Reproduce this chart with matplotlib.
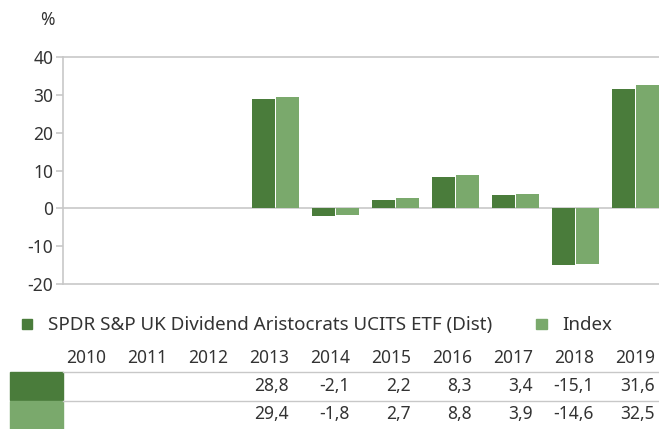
import numpy as np
import matplotlib
matplotlib.use('Agg')
import matplotlib.pyplot as plt
from matplotlib.patches import Rectangle

plt.rcParams['font.family'] = ['Noto Sans', 'DejaVu Sans']
plt.rcParams['axes.unicode_minus'] = False

#Yearly returns in %, None where the fund had no data
years = ['2010', '2011', '2012', '2013', '2014', '2015', '2016', '2017', '2018', '2019']
fund = [None, None, None, 28.8, -2.1, 2.2, 8.3, 3.4, -15.1, 31.6]
index = [None, None, None, 29.4, -1.8, 2.7, 8.8, 3.9, -14.6, 32.5]
fund_name = 'SPDR S&P UK Dividend Aristocrats UCITS ETF (Dist)'
index_name = 'Index'

dark = '#4a7c3b'
light = '#7aa96c'
grey = '#c8c8c8'
txt = '#333333'

W, H = 659, 429
fig = plt.figure(figsize=(W/100, H/100), dpi=100)

#main bar axes
ax = fig.add_axes([63/W, (H-284)/H, (W-63)/W, (284-57)/H])
x = np.arange(len(years))
fv = np.array([np.nan if v is None else v for v in fund])
iv = np.array([np.nan if v is None else v for v in index])
ax.bar(x-0.204, fv, width=0.38, color=dark, zorder=3)
ax.bar(x+0.204, iv, width=0.38, color=light, zorder=3)
ax.set_xlim(-0.542, 9.39)
ax.set_ylim(-20, 40)
ax.set_yticks(range(-20, 41, 10))
ax.set_xticks([])
ax.axhline(0, color=grey, lw=1.2, zorder=2)
ax.spines['right'].set_visible(False)
for s in ['top', 'bottom', 'left']:
	ax.spines[s].set_color(grey)
	ax.spines[s].set_linewidth(1.2)
ax.tick_params(axis='y', colors=grey, labelcolor=txt, labelsize=12.5, length=5, width=1.2, pad=2)
fig.text(47/W, 1-20/H, '%', ha='center', va='center', fontsize=12.5, color=txt)

#overlay for legend and table, in pixel units
ov = fig.add_axes([0, 0, 1, 1])
ov.set_xlim(0, W)
ov.set_ylim(H, 0)
ov.axis('off')

ov.add_patch(Rectangle((22, 319), 10, 10, color=dark))
ov.text(48, 325, fund_name, ha='left', va='center', fontsize=13.5, color=txt)
ov.add_patch(Rectangle((536, 319), 11, 10, color=light))
ov.text(562, 325, index_name, ha='left', va='center', fontsize=13.5, color=txt)

ov.add_patch(Rectangle((10, 372), 53, 28, color=dark))
ov.add_patch(Rectangle((10, 401), 53, 28, color=light))
ov.plot([63, W], [372, 372], color=grey, lw=1)
ov.plot([63, W], [400.5, 400.5], color=grey, lw=1)

def fmt(v):
	return '' if v is None else ('%.1f' % v).replace('.', ',')

for k, yr in enumerate(years):
	xr = 106 + 61*k
	ov.text(xr, 358, yr, ha='right', va='center', fontsize=12.5, color=txt)
	ov.text(xr, 386, fmt(fund[k]), ha='right', va='center', fontsize=12.5, color=txt)
	ov.text(xr, 414, fmt(index[k]), ha='right', va='center', fontsize=12.5, color=txt)

fig.savefig('out.png', dpi=100)
